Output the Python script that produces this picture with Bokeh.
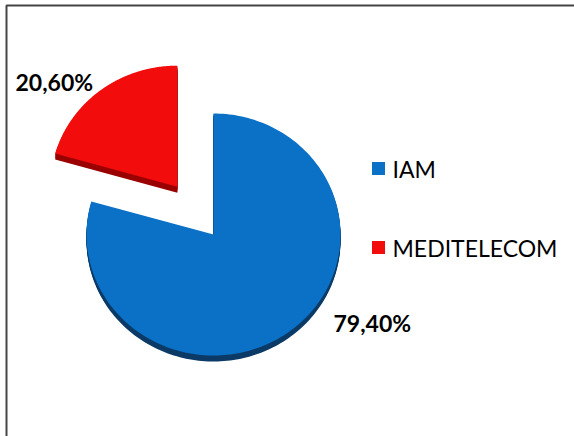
import numpy as np
from bokeh.plotting import figure
from bokeh.models import Range1d, BoxAnnotation
from bokeh.core.properties import value
from bokeh.embed import file_html
from bokeh.resources import INLINE

# ---- data ----
operators = ["IAM", "MEDITELECOM"]
shares = [79.40, 20.60]
share_labels = ["79,40%", "20,60%"]
colors = ["#0a71c6", "#f20c0c"]
side_colors = ["#0b3a66", "#9a0000"]

# ---- layout ----
W, H = 574, 436
cx, cy = 213, 234          # pie centre (pixels from top-left)
rx, ry = 127, 121          # radii
explode = [0, 60]
depth = 6
label_xy = [(333, 322), (15, 81)]
legend_xy = [(378, 168), (378, 247)]


def Y(ypx):
    return H - ypx


p = figure(width=W, height=H, output_backend="svg", toolbar_location=None,
           x_range=Range1d(0, W), y_range=Range1d(0, H), min_border=0)
p.axis.visible = False
p.grid.visible = False
p.outline_line_color = None
p.background_fill_color = "white"
p.border_fill_color = "white"

total = sum(shares)
cum = np.cumsum([0] + shares) / total
polys = []
for i, s in enumerate(shares):
    a0 = np.pi / 2 - 2 * np.pi * cum[i]
    a1 = np.pi / 2 - 2 * np.pi * cum[i + 1]
    mid = (a0 + a1) / 2
    ox = explode[i] * np.cos(mid)
    oy = explode[i] * np.sin(mid)
    t = np.linspace(a0, a1, 200)
    xs = np.concatenate([[cx + ox], cx + ox + rx * np.cos(t)])
    ys = np.concatenate([[Y(cy) + oy], Y(cy) + oy + ry * np.sin(t)])
    polys.append((xs, ys))

# side (3D depth)
for i, (xs, ys) in enumerate(polys):
    for d in range(1, depth + 1):
        p.patch(xs, ys - d, fill_color=side_colors[i], line_color=None)
# faces
for i, (xs, ys) in enumerate(polys):
    p.patch(xs, ys, fill_color=colors[i], line_color=None)

# percentage labels
for (lx, ly), lab in zip(label_xy, share_labels):
    p.text(x=[lx], y=[Y(ly)], text=[lab], text_font=value("Lato"),
           text_font_style="bold", text_font_size="23px",
           text_baseline="middle", text_align="left", text_color="black")

# legend
for (lx, ly), name, col in zip(legend_xy, operators, colors):
    p.rect(x=[lx], y=[Y(ly)], width=13, height=13, fill_color=col, line_color=None)
    p.text(x=[lx + 14], y=[Y(ly)], text=[name], text_font=value("Lato"),
           text_font_size="23px", text_baseline="middle", text_align="left",
           text_color="black")

# chart border (top and left visible)
p.add_layout(BoxAnnotation(left=6, right=W + 20, top=Y(5), bottom=-20,
                           fill_alpha=0, line_color="#444444", line_alpha=1.0,
                           line_width=2))

open("out.html", "w").write(file_html(p, INLINE))
